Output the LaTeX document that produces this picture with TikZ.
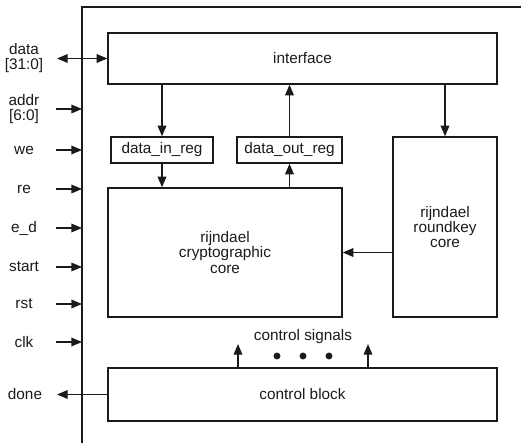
\documentclass[tikz,border=0pt]{standalone}
\usepackage{fontspec}
\setmainfont{Liberation Sans}
\usetikzlibrary{arrows.meta,calc}
\definecolor{ink}{HTML}{1A1A1A}

\begin{document}
\begin{tikzpicture}[x=0.75pt,y=-0.75pt,text=ink,>={Triangle[length=8pt,width=6.5pt]},
  blk/.style={draw=ink,line width=1pt,inner sep=0pt,align=center,
    font=\fontsize{11.5}{11.5}\selectfont},
  sig/.style={font=\fontsize{11.5}{11.5}\selectfont,align=center},
  wire/.style={->,draw=ink,line width=1pt}]
  \useasboundingbox (0,0) rectangle (521,445);
  \coordinate (tl) at (82,7);
  \draw[ink,line width=1pt] (521,7) -- (tl) -- (82,443);

  \node[blk,minimum width=291.75pt,minimum height=38.25pt] (intf) at (302.5,58.5) {interface};
  \node[blk,minimum width=76.5pt,minimum height=19.5pt] (din) at (162,150) {data\_in\_reg};
  \node[blk,minimum width=78.75pt,minimum height=19.5pt] (dout) at (289.5,150) {data\_out\_reg};
  \node[blk,minimum width=175.5pt,minimum height=96.75pt] (crypto) at (225,252.5)
    {rijndael\\cryptographic\\core};
  \node[blk,minimum width=78pt,minimum height=135pt] (rkey) at (445,227)
    {rijndael\\roundkey\\core};
  \node[blk,minimum width=291.75pt,minimum height=39.75pt] (ctrl) at (302.5,394.5) {control block};

  \draw[wire] (intf.south -| din.north) -- (din.north);
  \draw[wire] (din.south) -- (din.south |- crypto.north);
  \draw[wire] (crypto.north -| dout.south) -- (dout.south);
  \draw[wire] (dout.north) -- (dout.north |- intf.south);
  \draw[wire] (intf.south -| rkey.north) -- (rkey.north);
  \draw[wire] (rkey.west |- crypto.east) -- (crypto.east);

  \node[sig] (cslbl) at (303,337) {control signals};
  \coordinate (cs1) at (238,344);
  \coordinate (cs2) at (368,344);
  \draw[wire] (ctrl.north -| cs1) -- (cs1);
  \draw[wire] (ctrl.north -| cs2) -- (cs2);
  \foreach \x in {277,303,329}
    \fill[ink] (\x,356) circle (2.6pt);

  \node[sig] (data) at (24,58) {data\\{}[31:0]};
  \coordinate (data-out) at (57,58.5);
  \draw[wire,<->] (data-out) -- (intf.west);
  \foreach \nm/\y/\txt in {addr/109/{addr\\{}[6:0]},we/150/we,re/189/re,ed/228/e\_d,
      start/267/start,rst/304/rst,clk/342/clk}{
    \node[sig] (\nm) at (24,\y) {\txt};
    \coordinate (\nm-out) at (56,\y);
    \coordinate (\nm-in) at (82,\y);
    \draw[wire] (\nm-out) -- (\nm-in);
  }
  \node[sig] (done) at (25,394.5) {done};
  \coordinate (done-out) at (57,394.5);
  \draw[wire] (ctrl.west) -- (done-out);
\end{tikzpicture}
\end{document}
